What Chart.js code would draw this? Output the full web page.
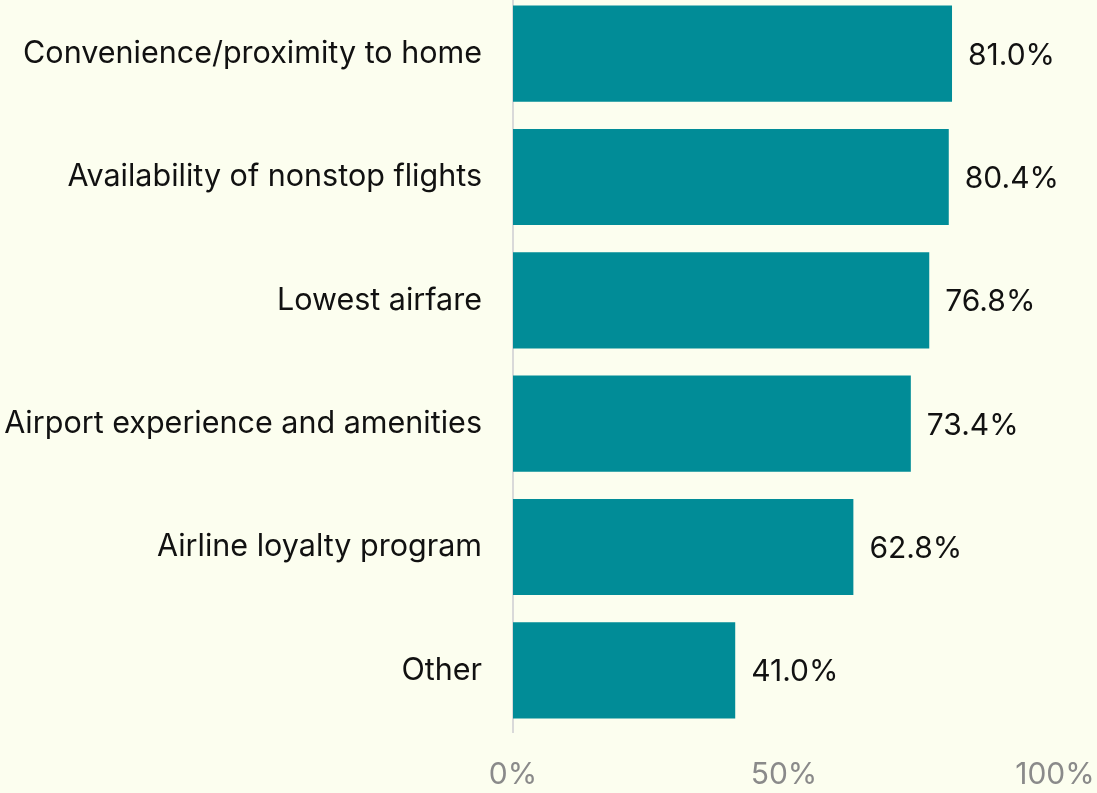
<!DOCTYPE html>
<html>
<head>
<meta charset="utf-8">
<script src="https://cdn.jsdelivr.net/npm/chart.js@4"></script>
<style>
  html, body { margin: 0; padding: 0; background: #fcfeef; overflow: hidden; }
  #wrap { width: 1097px; height: 801px; margin-top: -8px; }
</style>
</head>
<body>
<div id="wrap"><canvas id="chart"></canvas></div>
<script>
const categories = [
  'Convenience/proximity to home',
  'Availability of nonstop flights',
  'Lowest airfare',
  'Airport experience and amenities',
  'Airline loyalty program',
  'Other'
];
const shares = [81.0, 80.4, 76.8, 73.4, 62.8, 41.0];
const xTicks = [0, 50, 100];

const FONT = 'Inter, "Liberation Sans", Arial, sans-serif';

// value labels to the right of each bar
const valueLabels = {
  id: 'valueLabels',
  afterDatasetsDraw(chart) {
    const ctx = chart.ctx;
    const meta = chart.getDatasetMeta(0);
    ctx.save();
    ctx.font = '30px ' + FONT;
    ctx.fillStyle = '#111';
    ctx.textAlign = 'left';
    ctx.textBaseline = 'middle';
    meta.data.forEach((bar, i) => {
      ctx.fillText(shares[i].toFixed(1) + '%', bar.x + 16, bar.y + 2);
    });
    ctx.restore();
  }
};

new Chart(document.getElementById('chart'), {
  type: 'bar',
  data: {
    labels: categories,
    datasets: [{
      data: shares,
      backgroundColor: '#018c97',
      categoryPercentage: 1,
      barPercentage: 0.78
    }]
  },
  options: {
    indexAxis: 'y',
    responsive: true,
    maintainAspectRatio: false,
    animation: false,
    layout: { padding: { top: 0, right: 42, left: 0, bottom: 0 } },
    plugins: { legend: { display: false }, tooltip: { enabled: false } },
    scales: {
      x: {
        min: 0,
        max: 100,
        afterBuildTicks: s => { s.ticks = xTicks.map(v => ({ value: v })); },
        afterFit: s => { s.height = 61; s.paddingLeft = 0; s.paddingRight = 0; },
        grid: { display: false, drawTicks: false },
        border: { display: false },
        ticks: {
          color: '#8a8a8a',
          font: { family: FONT, size: 30 },
          padding: 25,
          maxRotation: 0,
          callback: v => v + '%'
        }
      },
      y: {
        afterFit: s => { s.width = 513; s.paddingTop = 0; s.paddingBottom = 0; },
        grid: { display: false, drawTicks: false },
        border: { display: true, color: '#d9d9d9', width: 2 },
        ticks: {
          color: '#111',
          font: { family: FONT, size: 30.5 },
          padding: 31
        }
      }
    }
  },
  plugins: [valueLabels]
});
</script>
</body>
</html>
